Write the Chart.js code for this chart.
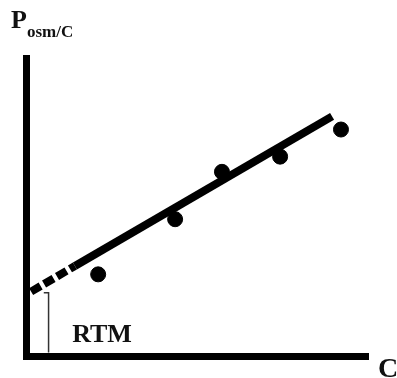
<!DOCTYPE html>
<html lang="en">
<head>
    <meta charset="UTF-8">
    <title>Posm/C vs C</title>
    <style>
        body {
            margin: 0;
            background-color: #ffffff;
        }
        #wrap {
            position: relative;
            width: 397px;
            height: 378px;
        }
    </style>
</head>
<body>
    <div id="wrap"><canvas id="chart1"></canvas></div>

    <script src="https://cdn.jsdelivr.net/npm/chart.js"></script>
    <script>
        // measured points (x = C, y = Posm/C), axis units 0..100
        var concentrations = [21.1, 43.6, 57.3, 74.3, 92.1];
        var posmOverC = [27.4, 45.9, 61.8, 66.9, 76.0];

        // fitted line: extrapolated (dashed) part and fitted (solid) part
        var fitDashedX = [1.5, 14.3];
        var fitDashedY = [21.6, 30.2];
        var fitSolidX = [14.3, 89.5];
        var fitSolidY = [30.2, 80.4];

        // bracket marking the intercept (RTM)
        var bracketX = [5.2, 6.6, 6.6];
        var bracketY = [21.2, 21.2, 1.2];

        var yLabelMain = 'P';
        var yLabelSub = 'osm/C';
        var xLabel = 'C';
        var interceptLabel = 'RTM';

        function toPoints(xs, ys) {
            return xs.map(function(x, i) { return { x: x, y: ys[i] }; });
        }

        var labelPlugin = {
            id: 'labels',
            afterDraw: function(chart) {
                var ctx = chart.ctx;
                var xs = chart.scales.x, ys = chart.scales.y;
                ctx.save();
                ctx.fillStyle = '#111';
                ctx.textBaseline = 'alphabetic';
                ctx.font = 'bold 26px "Liberation Serif", serif';
                ctx.fillText(yLabelMain, 11, 28);
                ctx.font = 'bold 17px "Liberation Serif", serif';
                ctx.fillText(yLabelSub, 27, 37);
                ctx.font = 'bold 28px "Liberation Serif", serif';
                ctx.fillText(xLabel, chart.chartArea.right + 10, 377);
                ctx.font = 'bold 26px "Liberation Serif", serif';
                ctx.fillText(interceptLabel, xs.getPixelForValue(13.5), ys.getPixelForValue(4.8));
                ctx.restore();
            }
        };

        new Chart(document.getElementById('chart1').getContext('2d'), {
            type: 'scatter',
            data: {
                datasets: [{
                    data: toPoints(fitDashedX, fitDashedY),
                    showLine: true,
                    borderColor: '#000',
                    borderWidth: 8,
                    borderDash: [11, 4],
                    pointRadius: 0
                }, {
                    data: toPoints(fitSolidX, fitSolidY),
                    showLine: true,
                    borderColor: '#000',
                    borderWidth: 8,
                    borderCapStyle: 'butt',
                    pointRadius: 0
                }, {
                    data: toPoints(bracketX, bracketY),
                    showLine: true,
                    borderColor: '#333',
                    borderWidth: 1.5,
                    pointRadius: 0
                }, {
                    data: toPoints(concentrations, posmOverC),
                    backgroundColor: '#000',
                    borderColor: '#000',
                    pointRadius: 7.5
                }]
            },
            options: {
                responsive: true,
                maintainAspectRatio: false,
                animation: false,
                layout: { padding: { left: 18, top: 58, right: 29, bottom: 14 } },
                plugins: {
                    legend: { display: false },
                    tooltip: { enabled: false }
                },
                scales: {
                    x: {
                        min: 0, max: 100,
                        grid: { display: false },
                        ticks: { display: false },
                        border: { color: '#000', width: 7 }
                    },
                    y: {
                        min: 0, max: 100,
                        grid: { display: false },
                        ticks: { display: false },
                        border: { color: '#000', width: 7 }
                    }
                }
            },
            plugins: [labelPlugin]
        });
    </script>
</body>
</html>
